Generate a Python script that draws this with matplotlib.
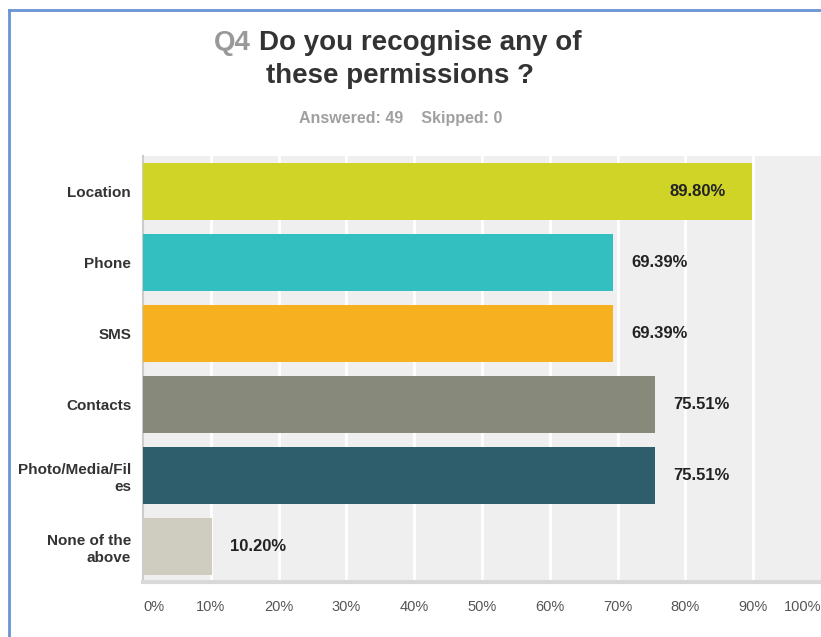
import matplotlib
matplotlib.use("Agg")
import matplotlib.pyplot as plt
from matplotlib.lines import Line2D

plt.rcParams['font.family'] = ['Liberation Sans', 'DejaVu Sans']

# survey data
categories = ["Location", "Phone", "SMS", "Contacts", "Photo/Media/Fil\nes", "None of the\nabove"]
percents = [89.80, 69.39, 69.39, 75.51, 75.51, 10.20]
xticks = [0, 10, 20, 30, 40, 50, 60, 70, 80, 90, 100]
colors = ["#cfd427", "#33bec0", "#f7b01f", "#878a7a", "#2e5e6b", "#cfcdbf"]

fig = plt.figure(figsize=(8.21, 6.37), dpi=100)
ax = fig.add_axes([143 / 821, 1 - 582 / 637, 1 - 143 / 821, 426 / 637])
ax.set_facecolor("#efefef")

ypos = list(range(len(categories)))
ax.barh(ypos, percents, height=0.79, color=colors, zorder=3)

ax.set_xlim(0, 100)
ax.set_ylim(len(categories) - 0.5, -0.5)

# white vertical grid
for t in xticks[1:-1]:
    ax.axvline(t, color="white", lw=2, zorder=1)

for s in ["top", "right"]:
    ax.spines[s].set_visible(False)
ax.spines["left"].set_color("#cccccc")
ax.spines["left"].set_linewidth(1.5)
ax.spines["bottom"].set_color("#d9d9d9")
ax.spines["bottom"].set_linewidth(3)

ax.set_yticks(ypos)
ax.set_yticklabels(categories, fontsize=11, fontweight="bold", color="#333333",
                   linespacing=1.3, multialignment="right")
ax.set_xticks(xticks)
ax.set_xticklabels([f"{t}%" for t in xticks], fontsize=10.5, color="#555555")
ax.tick_params(axis="both", length=0)
ax.tick_params(axis="x", pad=13)
ax.tick_params(axis="y", pad=8.5)
xl = ax.get_xticklabels()
xl[0].set_ha("left")
xl[-1].set_ha("right")

# value labels
for y, v in zip(ypos, percents):
    if v > 85:
        ax.annotate(f"{v:.2f}%", (v, y), xytext=(-19, 0), textcoords="offset points",
                    ha="right", va="center", fontsize=12, fontweight="bold", color="#222222", zorder=4)
    else:
        ax.annotate(f"{v:.2f}%", (v, y), xytext=(13, 0), textcoords="offset points",
                    ha="left", va="center", fontsize=12, fontweight="bold", color="#222222", zorder=4)

# title
fig.text(251 / 821, 1 - 43 / 637, "Q4", fontsize=20, fontweight="bold", color="#999999",
         ha="right", va="center")
fig.text(259 / 821, 1 - 43 / 637, "Do you recognise any of", fontsize=20, fontweight="bold",
         color="#333333", ha="left", va="center")
fig.text(400 / 821, 1 - 76 / 637, "these permissions ?", fontsize=20, fontweight="bold",
         color="#333333", ha="center", va="center")
fig.text(401 / 821, 1 - 119 / 637, "Answered: 49    Skipped: 0", fontsize=11.5, fontweight="bold",
         color="#a0a0a0", ha="center", va="center")

# blue frame
fig.add_artist(Line2D([9 / 821, 9 / 821], [0, 1 - 10 / 637], color="#6a94d4", lw=2))
fig.add_artist(Line2D([9 / 821, 1], [1 - 10 / 637, 1 - 10 / 637], color="#6a94d4", lw=2))

fig.savefig("out.png", dpi=100)
